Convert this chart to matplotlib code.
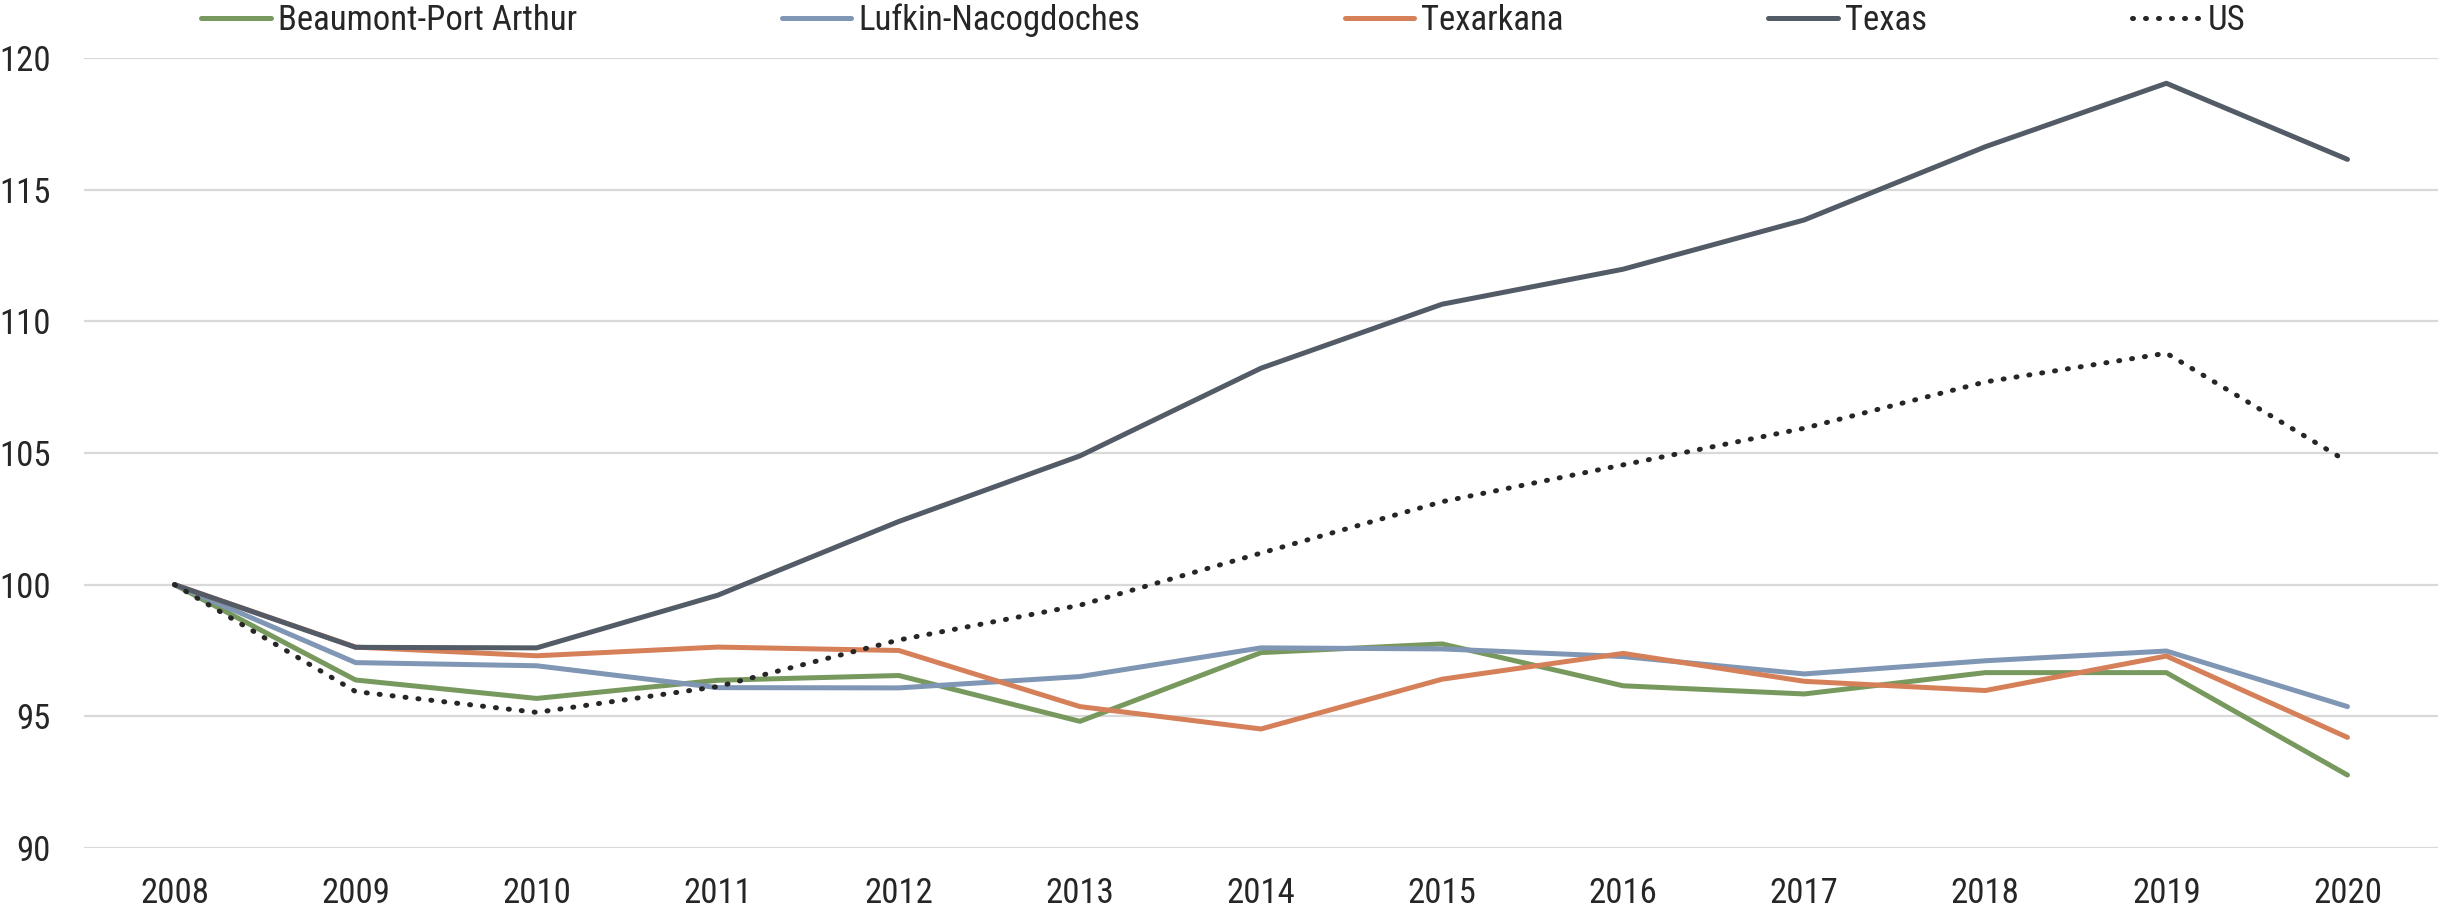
import numpy as np
import matplotlib
matplotlib.use('Agg')
import matplotlib.pyplot as plt

plt.rcParams['font.family'] = ['Liberation Sans Narrow', 'Arial Narrow', 'Roboto Condensed',
                               'Archivo Narrow', 'Liberation Sans', 'DejaVu Sans']

years = [str(y) for y in range(2008, 2021)]

beaumont = [100, 96.38, 95.68, 96.37, 96.55, 94.81, 97.42, 97.75, 96.16, 95.85, 96.66, 96.66, 92.77]
lufkin = [100, 97.04, 96.92, 96.09, 96.08, 96.51, 97.60, 97.56, 97.27, 96.61, 97.11, 97.48, 95.37]
texarkana = [100, 97.63, 97.30, 97.63, 97.50, 95.37, 94.52, 96.41, 97.39, 96.33, 95.98, 97.29, 94.20]
texas = [100, 97.62, 97.60, 99.60, 102.40, 104.89, 108.22, 110.65, 111.98, 113.85, 116.63, 119.04, 116.15]
us = [100, 95.94, 95.15, 96.13, 97.90, 99.22, 101.20, 103.15, 104.55, 105.94, 107.70, 108.79, 104.67]

text_color = '#262626'

fig = plt.figure(figsize=(24.42, 9.14), dpi=100)
ax = fig.add_axes([84/2442, 66/914, (2438-84)/2442, (848-58)/914])

x = np.arange(len(years))
lw = 3.6
ax.plot(x, beaumont, color='#77995D', lw=lw, label='Beaumont-Port Arthur', solid_capstyle='round')
ax.plot(x, lufkin, color='#7F96B4', lw=lw, label='Lufkin-Nacogdoches', solid_capstyle='round')
ax.plot(x, texarkana, color='#D6805A', lw=lw, label='Texarkana', solid_capstyle='round')
ax.plot(x, texas, color='#535B66', lw=lw, label='Texas', solid_capstyle='round')
ax.plot(x, us, color='#262626', lw=lw, linestyle=(0, (0.2, 2.4)), dash_capstyle='round', label='US')

ax.set_xlim(-0.5, 12.5)
ax.set_ylim(90, 120)
ax.set_yticks(range(90, 121, 5))
ax.set_xticks(x)
ax.set_xticklabels(years)
ax.yaxis.grid(True, color='#D9D9D9', lw=1.6)
ax.set_axisbelow(True)
for s in ax.spines.values():
    s.set_visible(False)
ax.tick_params(axis='both', length=0, labelsize=25, colors=text_color)
ax.tick_params(axis='x', pad=21)
ax.tick_params(axis='y', pad=24)

leg = fig.legend(loc='center', bbox_to_anchor=(0.501, 0.978), ncol=5, frameon=False,
                 fontsize=25, handlelength=2.0, handletextpad=0.2, columnspacing=5.9,
                 borderpad=0, borderaxespad=0)
for t in leg.get_texts():
    t.set_color(text_color)

plt.savefig('out.png', dpi=100)
